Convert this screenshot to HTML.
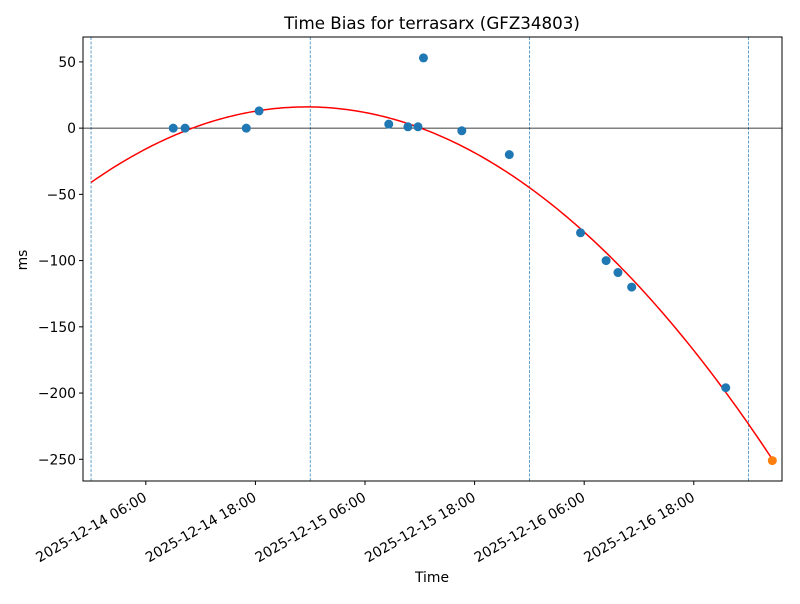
<!DOCTYPE html>
<html><head><meta charset="utf-8"><style>
body{margin:0;background:#fff;font-family:"DejaVu Sans","Liberation Sans",sans-serif}
svg text{font-family:"DejaVu Sans","Liberation Sans",sans-serif}
</style></head><body>
<svg id="chart" width="800" height="600" xmlns="http://www.w3.org/2000/svg">
<rect width="800" height="600" fill="#fff"/>
<text x="432" y="29" font-size="16.7" text-anchor="middle">Time Bias for terrasarx (GFZ34803)</text>
<text x="432" y="582" font-size="13.9" text-anchor="middle">Time</text>
<text x="27" y="260" font-size="13.9" text-anchor="middle" transform="rotate(-90 27 260)">ms</text>
<g id="plot"></g>
</svg>
<script>
// hours since 2025-12-14 00:00
const pointHours = [9.0,10.3,17.0,18.4,32.6,34.7,35.8,36.4,40.6,45.8,53.6,56.4,57.7,59.2,69.5];
const pointValues = [0,0,0,13,3,1,1,53,-2,-20,-79,-100,-109,-120,-196];
const latestHour = [74.6];
const latestValue = [-251];
const fitCoeffs = [-41, 4.83, -0.1023]; // c0 + c1*h + c2*h^2
const fitRange = [0, 74.6];
const dayLineHours = [0, 24, 48, 72];
const xTickHours = [6, 18, 30, 42, 54, 66];
const xTickLabels = ['2025-12-14 06:00','2025-12-14 18:00','2025-12-15 06:00','2025-12-15 18:00','2025-12-16 06:00','2025-12-16 18:00'];
const yTicks = [50,0,-50,-100,-150,-200,-250];
const yTickLabels = ['50','0','\u221250','\u2212100','\u2212150','\u2212200','\u2212250'];

const L=83,R=782,T=37,B=481;
const xMin=-0.88,xMax=75.66,yMin=-266.4,yMax=68.8;
const X=h=>L+(h-xMin)/(xMax-xMin)*(R-L);
const Y=v=>B-(v-yMin)/(yMax-yMin)*(B-T);
const NS='http://www.w3.org/2000/svg';
const g=document.getElementById('plot');
function mk(tag,attrs,parent){const e=document.createElementNS(NS,tag);for(const k in attrs)e.setAttribute(k,attrs[k]);(parent||g).appendChild(e);return e;}

const clip=mk('clipPath',{id:'clip'});mk('rect',{x:L,y:T,width:R-L,height:B-T},clip);

dayLineHours.forEach(h=>{
  const l=mk('line',{x1:X(h),x2:X(h),y1:T,y2:B,stroke:'#1f77b4','stroke-width':0.7,'stroke-dasharray':'3,1.5'});
  
  
});
const zl=mk('line',{x1:L,x2:R,y1:Y(0),y2:Y(0),stroke:'#000','stroke-width':0.8});



let d='';
for(let i=0;i<=200;i++){const h=fitRange[0]+(fitRange[1]-fitRange[0])*i/200;const v=fitCoeffs[0]+fitCoeffs[1]*h+fitCoeffs[2]*h*h;d+=(i?'L':'M')+X(h).toFixed(2)+','+Y(v).toFixed(2);}
const fit=mk('path',{d:d,fill:'none',stroke:'red','stroke-width':1.5,'clip-path':'url(#clip)'});



pointHours.forEach((h,i)=>{
  const c=mk('circle',{cx:X(h),cy:Y(pointValues[i]),r:4.5,fill:'#1f77b4'});
  
  
});
latestHour.forEach((h,i)=>{
  const c=mk('circle',{cx:X(h),cy:Y(latestValue[i]),r:4.5,fill:'#ff7f0e'});
  
  
});

const fr=mk('rect',{x:L,y:T,width:R-L,height:B-T,fill:'none',stroke:'#000','stroke-width':1});



xTickHours.forEach((h,i)=>{
  const x=X(h);
  mk('line',{x1:x,x2:x,y1:B,y2:B+4,stroke:'#000','stroke-width':1});
  const t=mk('text',{x:x+2,y:B+19,'font-size':13.9,'text-anchor':'end',transform:`rotate(-30 ${x+2} ${B+19})`});
  t.textContent=xTickLabels[i];
  
  
});
yTicks.forEach((v,i)=>{
  const y=Y(v);
  mk('line',{x1:L-4,x2:L,y1:y,y2:y,stroke:'#000','stroke-width':1});
  const t=mk('text',{x:L-7,y:y+5,'font-size':13.9,'text-anchor':'end'});
  t.textContent=yTickLabels[i];
  
  
});
</script>
</body></html>
